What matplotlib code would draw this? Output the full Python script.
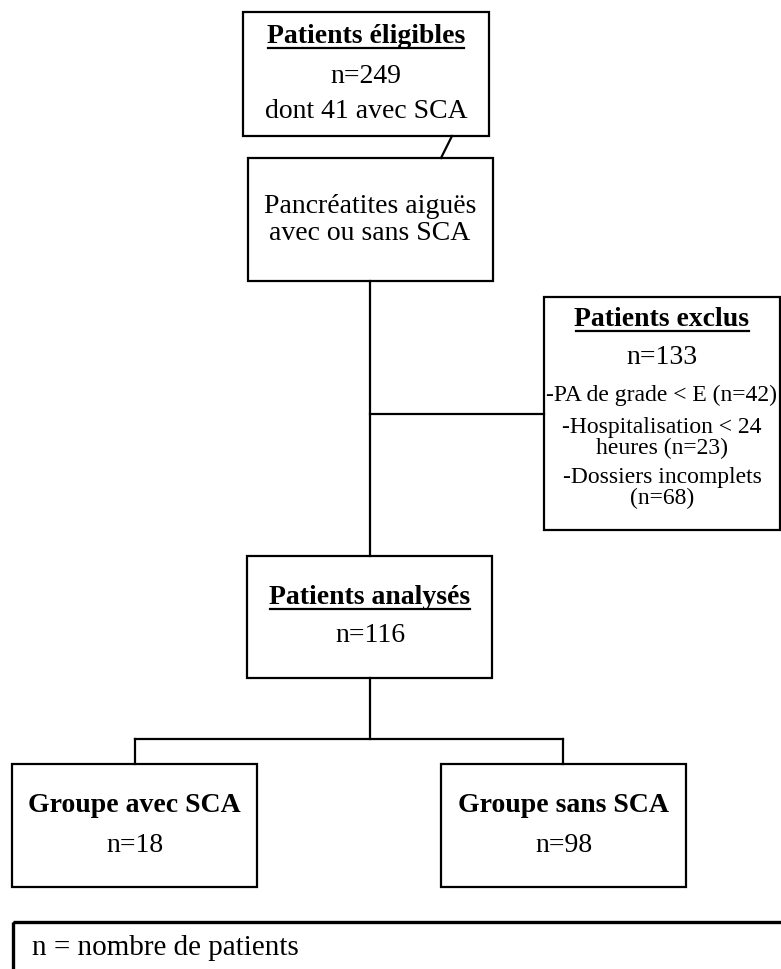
import matplotlib.pyplot as plt
from matplotlib.patches import Rectangle

plt.rcParams['font.family'] = ['Liberation Serif', 'DejaVu Serif']

# data
n_eligibles = 249
n_eligibles_sca = 41
n_exclus = 133
exclusion_labels = ['-PA de grade < E (n={})', '-Hospitalisation < 24\nheures (n={})', '-Dossiers incomplets\n(n={})']
exclusion_counts = [42, 23, 68]
n_analyses = 116
group_labels = ['Groupe avec SCA', 'Groupe sans SCA']
group_counts = [18, 98]
legend_text = 'n = nombre de patients'

W, H = 781, 969
fig = plt.figure(figsize=(W / 100, H / 100), dpi=100)
ax = fig.add_axes([0, 0, 1, 1])
ax.set_xlim(0, W)
ax.set_ylim(H, 0)
ax.axis('off')

LW = 1.6
FS = 20


def box(x0, y0, x1, y1, lw=LW):
    ax.add_patch(Rectangle((x0, y0), x1 - x0, y1 - y0, fill=False, lw=lw, ec='black'))


def line(xs, ys, lw=LW):
    ax.plot(xs, ys, color='black', lw=lw, solid_capstyle='projecting')


underlined = []


def text(x, y, s, size=FS, bold=False, underline=False, ha='center', ls=1.0):
    t = ax.text(x, y, s, ha=ha, va='center', fontsize=size,
                fontweight='bold' if bold else 'normal', linespacing=ls)
    if underline:
        underlined.append(t)
    return t


# boite 1
box(243, 12, 489, 136)
text(366, 36, 'Patients éligibles', bold=True, underline=True)
text(366, 76, f'n={n_eligibles}')
text(366, 111, f'dont {n_eligibles_sca} avec SCA')

line([452, 441], [136, 158])

# boite 2
box(248, 158, 493, 281)
text(370, 220, 'Pancréatites aiguës\navec ou sans SCA', ls=1.12)

line([370, 370], [281, 556])
line([370, 544], [414, 414])

# exclus
box(544, 297, 780, 530)
text(662, 319, 'Patients exclus', bold=True, underline=True)
text(662, 357, f'n={n_exclus}')
excl_y = [395, 438, 488]
for lab, c, yy in zip(exclusion_labels, exclusion_counts, excl_y):
    text(662, yy, lab.format(c), size=17)

# analyses
box(247, 556, 492, 678)
text(370, 597, 'Patients analysés', bold=True, underline=True)
text(370, 636, f'n={n_analyses}')

line([370, 370], [678, 739])
line([135, 563], [739, 739])
line([135, 135], [739, 764])
line([563, 563], [739, 764])

# groupes
group_boxes = [(12, 257), (441, 686)]
for (x0, x1), lab, c in zip(group_boxes, group_labels, group_counts):
    box(x0, 764, x1, 887)
    text((x0 + x1) / 2, 805, lab, bold=True)
    text((x0 + x1) / 2, 845, f'n={c}')

# legende
box(13, 922, 800, 1000, lw=2.4)
text(32, 948, legend_text, size=21, ha='left')

# soulignement
fig.canvas.draw()
r = fig.canvas.get_renderer()
inv = ax.transData.inverted()
for t in underlined:
    bb = t.get_window_extent(r)
    (xa, ya), (xb, yb) = inv.transform([(bb.x0, bb.y0), (bb.x1, bb.y1)])
    line([xa + 1, xb - 1], [ya - 1, ya - 1], lw=1.6)

fig.savefig('out.png', dpi=100)
